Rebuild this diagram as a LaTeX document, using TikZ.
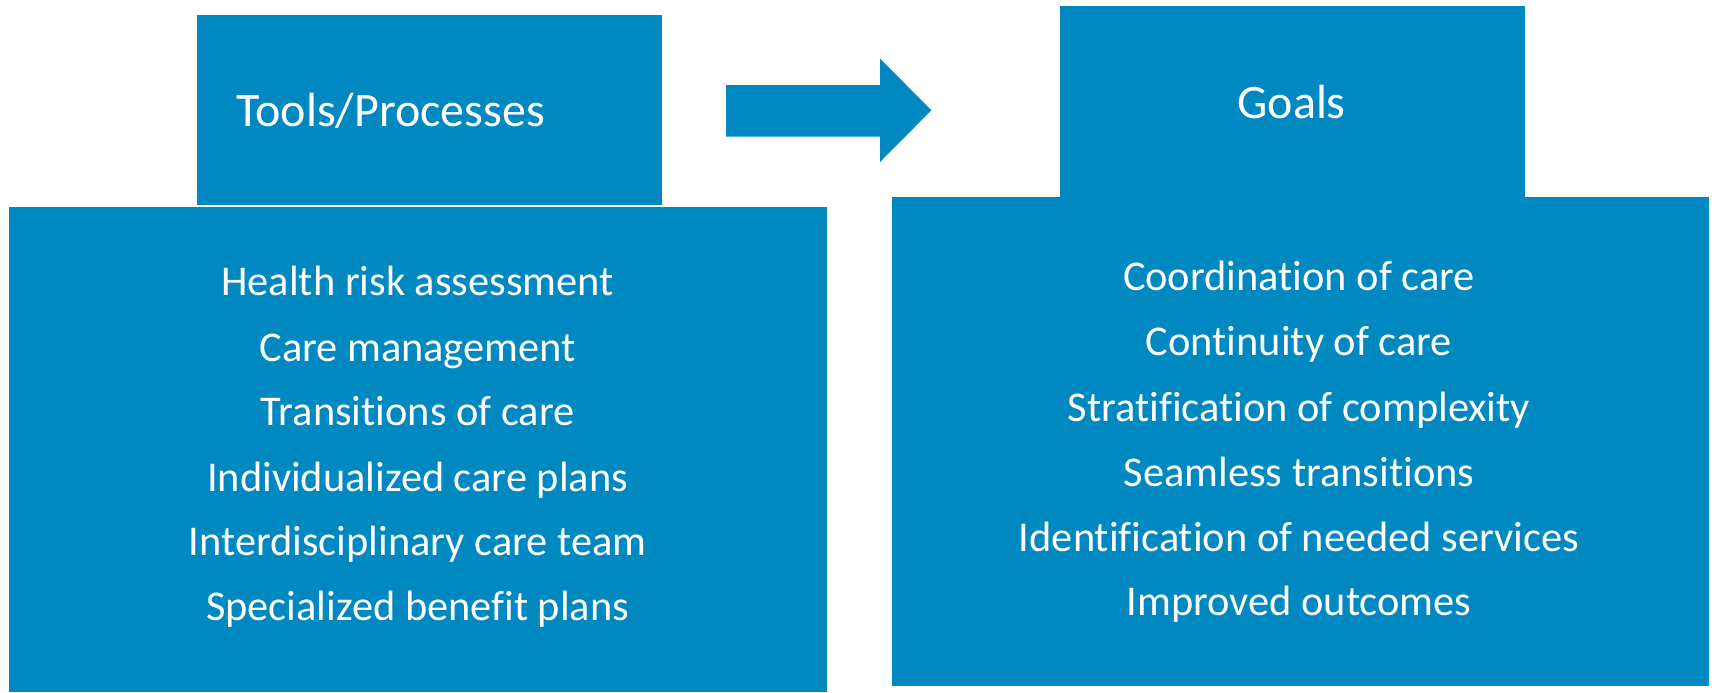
\documentclass[tikz,border=0pt]{standalone}
\usepackage{fontspec}
\setmainfont[Ligatures=NoCommon]{Carlito}
\definecolor{boxblue}{RGB}{0,136,192}
\tikzset{
  bluebox/.style={fill=boxblue, draw=none, inner sep=0pt, outer sep=0pt},
  titletext/.style={text=white, font=\fontsize{24}{29}\selectfont, anchor=base, inner sep=0pt},
  itemtext/.style={text=white, font=\fontsize{21.2}{25}\selectfont, anchor=base, inner sep=0pt}
}
\begin{document}
\begin{tikzpicture}[x=0.5pt,y=-0.5pt]
\useasboundingbox (0,0) rectangle (1712,692);
% boxes
\fill[bluebox] (196.5,15.3) rectangle (661.6,205.3);
\fill[bluebox] (8.7,207.4) rectangle (826.5,692);
\fill[bluebox] (1059.6,6) rectangle (1525.3,197);
\fill[bluebox] (892,196.5) rectangle (1709.3,685.5);
% arrow
\fill[bluebox] (726,85) -- (880,85) -- (880,58.5) -- (931.3,110.3) -- (880,162) -- (880,136.5) -- (726,136.5) -- cycle;
% titles
\node[titletext] (tools) at (390.6,126) {Tools/Processes};
\node[titletext] (goals) at (1291.6,118.3) {Goals};
% left list
\node[itemtext] (l1) at (417.6,295.8) {Health risk assessment};
\node[itemtext] (l2) at (417.6,361.3) {Care management};
\node[itemtext] (l3) at (417.6,425.7) {Transitions of care};
\node[itemtext] (l4) at (417.6,491.2) {Individualized care plans};
\node[itemtext] (l5) at (417.6,555.6) {Interdisciplinary care team};
\node[itemtext] (l6) at (417.6,620.0) {Specialized benefit plans};
% right list
\node[itemtext] (r1) at (1299,290.5) {Coordination of care};
\node[itemtext] (r2) at (1299,355.8) {Continuity of care};
\node[itemtext] (r3) at (1299,421.3) {Stratification of complexity};
\node[itemtext] (r4) at (1299,486.8) {Seamless transitions};
\node[itemtext] (r5) at (1299,551.2) {Identification of needed services};
\node[itemtext] (r6) at (1299,615.7) {Improved outcomes};
\end{tikzpicture}
\end{document}
